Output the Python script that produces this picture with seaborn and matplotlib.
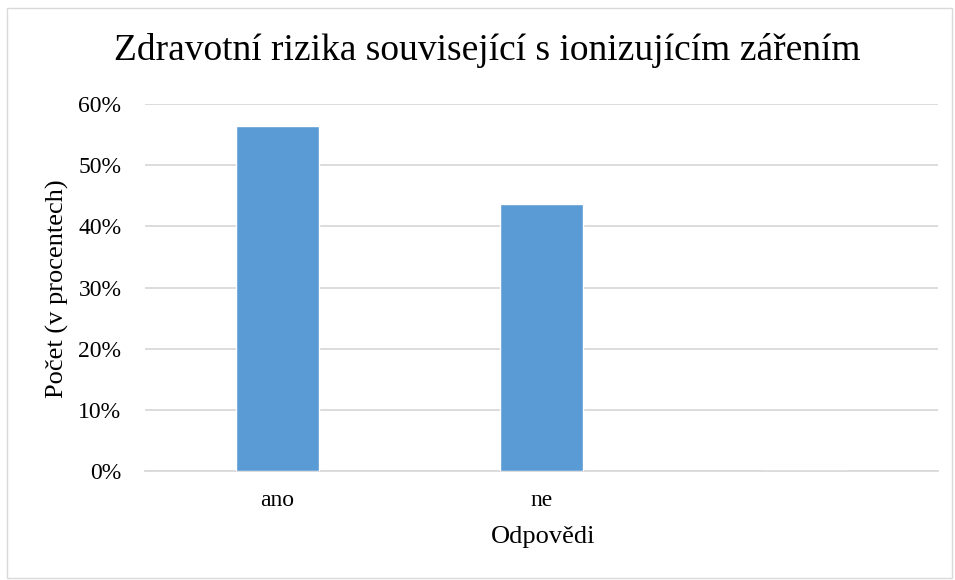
import matplotlib
matplotlib.use("Agg")
import matplotlib.pyplot as plt
import seaborn as sns
import pandas as pd
from matplotlib.ticker import PercentFormatter, MultipleLocator
from matplotlib.patches import Rectangle

categories = ["ano", "ne", ""]
values = [56.4, 43.6, 0.0]
title = "Zdravotní rizika související s ionizujícím zářením"
xlabel = "Odpovědi"
ylabel = "Počet (v procentech)"

sns.set_theme(style="white")
plt.rcParams['font.family'] = ['Liberation Serif', 'DejaVu Serif']
plt.rcParams['text.color'] = 'black'
plt.rcParams['axes.labelcolor'] = 'black'

df = pd.DataFrame({"cat": categories, "val": values})

fig = plt.figure(figsize=(9.55, 5.8), dpi=100)
ax = fig.add_axes([145/955, 1 - 471/580, (938-145)/955, (471-104)/580])

sns.barplot(data=df, x="cat", y="val", order=categories, color="#5B9BD5",
            width=0.315, ax=ax, saturation=1, zorder=3)

ax.set_ylim(0, 60)
ax.set_xlim(-0.5, 2.5)
ax.yaxis.set_major_locator(MultipleLocator(10))
ax.yaxis.set_major_formatter(PercentFormatter(decimals=0))
ax.grid(axis="y", color="#D9D9D9", linewidth=1.3, zorder=0)
ax.set_axisbelow(True)
for s in ["top", "right", "left"]:
    ax.spines[s].set_visible(False)
ax.spines["bottom"].set_color("#D9D9D9")
ax.spines["bottom"].set_linewidth(1.3)
ax.tick_params(axis="both", length=0, labelsize=17, colors="black")
ax.tick_params(axis="y", pad=17)
ax.tick_params(axis="x", pad=14)

ax.set_xlabel("")
ax.set_ylabel("")
fig.text(543/955, 1 - 537/580, xlabel, ha="center", va="center", fontsize=19)
fig.text(57/955, 1 - 289/580, ylabel, ha="center", va="center", fontsize=19, rotation=90)
fig.text(487/955, 1 - 50/580, title, ha="center", va="center", fontsize=27)

fig.patches.append(Rectangle((7/955, 2/580), 945/955, 570/580, transform=fig.transFigure,
                             fill=False, edgecolor="#D9D9D9", linewidth=1))

fig.savefig("out.png", dpi=100)
